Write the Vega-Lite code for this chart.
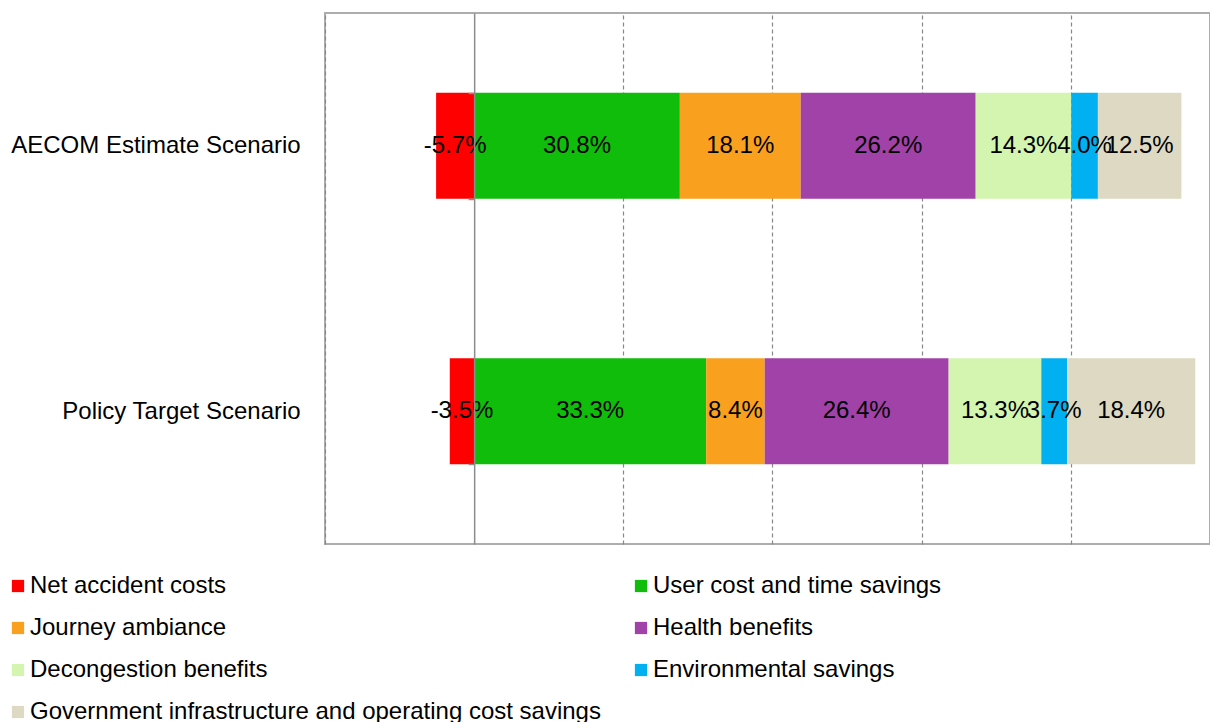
{
  "$schema": "https://vega.github.io/schema/vega-lite/v6.json",
  "width": 885,
  "height": 531,
  "autosize": {"type": "none"},
  "padding": {"left": 325, "top": 13, "right": 0, "bottom": 178},
  "background": "white",
  "config": {
    "font": "Liberation Sans",
    "view": {"stroke": "#adadad", "strokeWidth": 2}
  },
  "data": {
    "values": [
      {"scenario": "AECOM Estimate Scenario", "category": "Net accident costs", "k": 1, "value": -0.2552, "label": "-5.7%"},
      {"scenario": "AECOM Estimate Scenario", "category": "User cost and time savings", "k": 2, "value": 1.3789, "label": "30.8%"},
      {"scenario": "AECOM Estimate Scenario", "category": "Journey ambiance", "k": 3, "value": 0.8103, "label": "18.1%"},
      {"scenario": "AECOM Estimate Scenario", "category": "Health benefits", "k": 4, "value": 1.1730, "label": "26.2%"},
      {"scenario": "AECOM Estimate Scenario", "category": "Decongestion benefits", "k": 5, "value": 0.6402, "label": "14.3%"},
      {"scenario": "AECOM Estimate Scenario", "category": "Environmental savings", "k": 6, "value": 0.1791, "label": "4.0%"},
      {"scenario": "AECOM Estimate Scenario", "category": "Government infrastructure and operating cost savings", "k": 7, "value": 0.5596, "label": "12.5%"},
      {"scenario": "Policy Target Scenario", "category": "Net accident costs", "k": 1, "value": -0.1635, "label": "-3.5%"},
      {"scenario": "Policy Target Scenario", "category": "User cost and time savings", "k": 2, "value": 1.5554, "label": "33.3%"},
      {"scenario": "Policy Target Scenario", "category": "Journey ambiance", "k": 3, "value": 0.3924, "label": "8.4%"},
      {"scenario": "Policy Target Scenario", "category": "Health benefits", "k": 4, "value": 1.2331, "label": "26.4%"},
      {"scenario": "Policy Target Scenario", "category": "Decongestion benefits", "k": 5, "value": 0.6212, "label": "13.3%"},
      {"scenario": "Policy Target Scenario", "category": "Environmental savings", "k": 6, "value": 0.1728, "label": "3.7%"},
      {"scenario": "Policy Target Scenario", "category": "Government infrastructure and operating cost savings", "k": 7, "value": 0.8595, "label": "18.4%"}
    ]
  },
  "encoding": {
    "y": {
      "field": "scenario",
      "type": "nominal",
      "sort": ["AECOM Estimate Scenario", "Policy Target Scenario"],
      "scale": {"paddingInner": 0.6, "paddingOuter": 0.3},
      "axis": {
        "title": null,
        "orient": "left",
        "offset": -149.16,
        "domainColor": "#8c8c8c",
        "domainWidth": 1.5,
        "tickColor": "#8c8c8c",
        "tickWidth": 1.5,
        "tickSize": 6,
        "tickBand": "extent",
        "labelPadding": 168,
        "labelFontSize": 24,
        "labelColor": "black",
        "labelLimit": 0,
        "zindex": 1
      }
    }
  },
  "layer": [
    {
      "mark": {"type": "bar"},
      "encoding": {
        "x": {
          "field": "value",
          "type": "quantitative",
          "stack": "zero",
          "scale": {"domain": [-1, 4.933], "nice": false, "zero": false},
          "axis": {
            "title": null,
            "labels": false,
            "ticks": false,
            "domain": false,
            "grid": true,
            "values": [-1, 1, 2, 3, 4],
            "gridDash": [4, 3],
            "gridColor": "#888888",
            "gridWidth": 1.2
          }
        },
        "color": {
          "field": "category",
          "type": "nominal",
          "scale": {
            "domain": ["Net accident costs", "User cost and time savings", "Journey ambiance", "Health benefits", "Decongestion benefits", "Environmental savings", "Government infrastructure and operating cost savings"],
            "range": ["#FF0000", "#10BD0B", "#F9A01F", "#A142A9", "#D3F5B0", "#00B0F0", "#DDD9C3"]
          },
          "legend": {
            "orient": "none",
            "legendX": -319,
            "legendY": 561,
            "direction": "horizontal",
            "columns": 2,
            "columnPadding": 28,
            "rowPadding": 18,
            "symbolType": "square",
            "symbolSize": 150,
            "symbolStrokeWidth": 0,
            "labelFontSize": 24,
            "labelColor": "black",
            "labelOffset": 0,
            "labelLimit": 0,
            "title": null,
            "padding": 0
          }
        },
        "order": {"field": "k"}
      }
    },
    {
      "mark": {"type": "text", "fontSize": 24, "color": "black"},
      "encoding": {
        "x": {"field": "value", "type": "quantitative", "stack": "zero", "bandPosition": 0.5},
        "detail": {"field": "category"},
        "order": {"field": "k"},
        "text": {"field": "label"}
      }
    }
  ]
}
